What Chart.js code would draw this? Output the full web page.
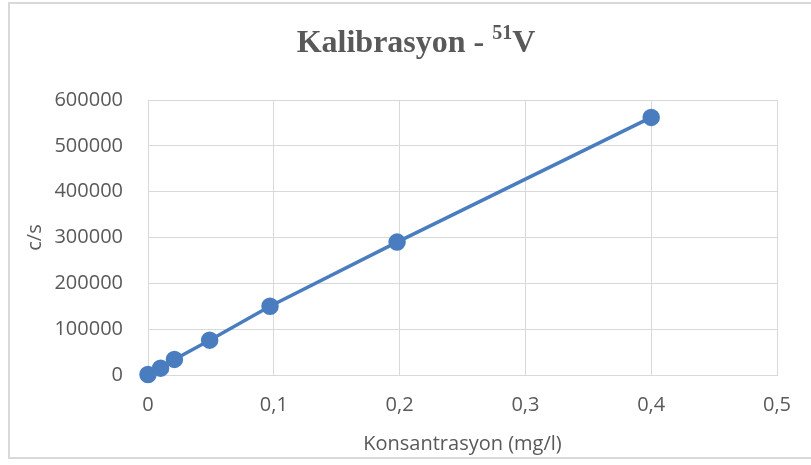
<!DOCTYPE html>
<html>
<head>
<meta charset="utf-8">
<script src="https://cdn.jsdelivr.net/npm/chart.js@4"></script>
<style>
  html, body { margin: 0; padding: 0; background: #fff; }
  #wrap { position: relative; width: 811px; height: 465px; overflow: hidden; }
  #frame { position: absolute; left: 8px; top: 2px; width: 820px; height: 457px; border: 2px solid #d9d9d9; box-sizing: border-box; }
  canvas { position: absolute; left: 0; top: 0; }
</style>
</head>
<body>
<div id="wrap">
  <div id="frame"></div>
  <canvas id="calChart" width="811" height="465"></canvas>
</div>
<script>
// Calibration data
const concentrations = [0, 0.01, 0.021, 0.049, 0.097, 0.198, 0.4];
const counts = [1000, 15000, 34000, 76000, 150000, 290000, 562000];
const yTicks = [0, 100000, 200000, 300000, 400000, 500000, 600000];
const xTicks = [0, 0.1, 0.2, 0.3, 0.4, 0.5];

const textColor = '#595959';
const gridColor = '#d9d9d9';
const blue = '#4a7dbf';

// title with a superscript mass number
const titlePlugin = {
    id: 'supTitle',
    afterDraw(chart) {
        const ctx = chart.ctx;
        const big = "bold 32px 'Liberation Serif', 'Times New Roman', serif";
        const small = "bold 20px 'Liberation Serif', 'Times New Roman', serif";
        const parts = [['Kalibrasyon - ', big, 0], ['51', small, -13], ['V', big, 0]];
        ctx.save();
        ctx.fillStyle = textColor;
        ctx.textBaseline = 'alphabetic';
        let total = 0;
        parts.forEach(p => { ctx.font = p[1]; total += ctx.measureText(p[0]).width; });
        let x = 416 - total / 2;
        parts.forEach(p => {
            ctx.font = p[1];
            ctx.fillText(p[0], x, 52 + p[2]);
            x += ctx.measureText(p[0]).width;
        });
        ctx.restore();
    }
};

const points = concentrations.map((c, i) => ({ x: c, y: counts[i] }));

new Chart(document.getElementById('calChart'), {
    type: 'scatter',
    data: {
        datasets: [{
            data: points,
            showLine: true,
            borderColor: blue,
            backgroundColor: blue,
            borderWidth: 3.5,
            pointRadius: 7,
            pointHoverRadius: 7,
            clip: false
        }]
    },
    options: {
        responsive: false,
        animation: false,
        layout: { padding: { top: 100, left: 0, right: 34, bottom: 0 } },
        plugins: {
            legend: { display: false },
            title: { display: false },
            tooltip: { enabled: false }
        },
        scales: {
            x: {
                type: 'linear',
                min: 0,
                max: 0.5,
                afterBuildTicks: s => { s.ticks = xTicks.map(v => ({ value: v })); },
                afterFit: s => { s.height = 90; },
                grid: { color: gridColor, drawTicks: false },
                border: { color: gridColor },
                ticks: {
                    color: textColor,
                    padding: 18,
                    font: { family: "'Open Sans'", size: 20 },
                    callback: v => String(v).replace('.', ',')
                },
                title: {
                    display: true,
                    text: 'Konsantrasyon (mg/l)',
                    color: textColor,
                    font: { family: "'Open Sans'", size: 20 },
                    padding: { top: 0, bottom: 9 }
                }
            },
            y: {
                min: 0,
                max: 600000,
                afterBuildTicks: s => { s.ticks = yTicks.map(v => ({ value: v })); },
                afterFit: s => { s.width = 148; },
                grid: { color: gridColor, drawTicks: false },
                border: { color: gridColor },
                ticks: {
                    color: textColor,
                    padding: 25,
                    font: { family: "'Open Sans'", size: 20 },
                    callback: v => String(v)
                },
                title: {
                    display: true,
                    text: 'c/s',
                    color: textColor,
                    font: { family: "'Open Sans'", size: 20 },
                    padding: { top: 23, bottom: 0 }
                }
            }
        }
    },
    plugins: [titlePlugin]
});
</script>
</body>
</html>
